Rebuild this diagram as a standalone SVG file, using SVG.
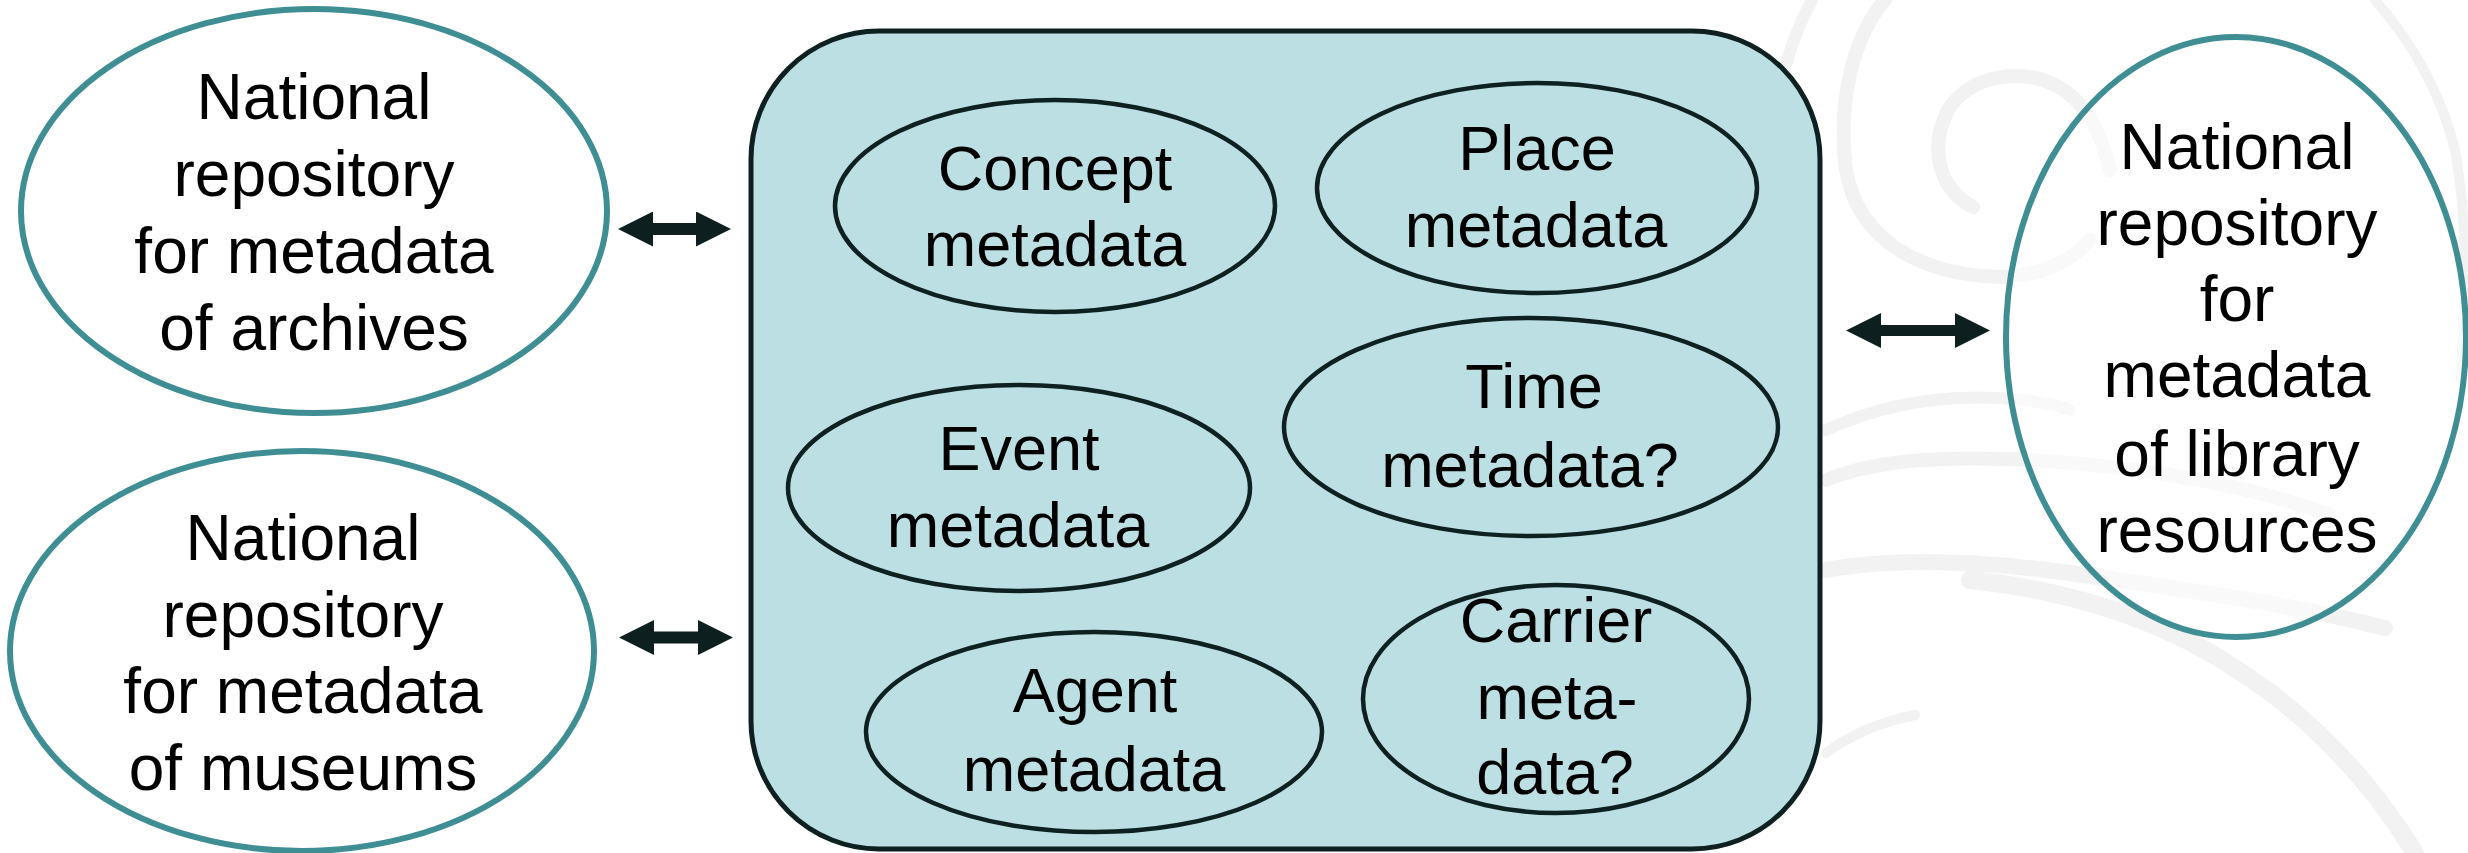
<svg xmlns="http://www.w3.org/2000/svg" width="2468" height="853" viewBox="0 0 2468 853">
  <defs>
    <style>
      .swirl { fill: none; stroke: #f2f2f2; stroke-linecap: round; }
      .repo { fill: #ffffff; fill-opacity: 0.55; stroke: #3f8e94; stroke-width: 6; }
      .hub { fill: #bbdfe2; stroke: #0e2020; stroke-width: 5; }
      .facet { fill: none; stroke: #0e2020; stroke-width: 4.5; }
      .label { font-family: "Liberation Sans", Arial, sans-serif; fill: #000000; text-anchor: middle; }
      .big { font-size: 64px; }
      .mid { font-size: 63px; }
      .link { stroke: #0e1f1f; stroke-width: 12; fill: none; marker-start: url(#head); marker-end: url(#head); }
      .link-thin { stroke-width: 11; }
    </style>
    <marker id="head" viewBox="0 0 35 35" markerWidth="35" markerHeight="35" refX="5" refY="17.5" markerUnits="userSpaceOnUse" orient="auto-start-reverse">
      <path d="M0,0 L35,17.5 L0,35 Z" fill="#0e1f1f"/>
    </marker>
  </defs>

  <rect width="2468" height="853" fill="#ffffff"/>

  <!-- faint decorative swirl in the background -->
  <g id="background-swirl">
    <path class="swirl" stroke-width="12" d="M1812,0 C1790,40 1775,90 1778,150"/>
    <path class="swirl" stroke-width="14" d="M1885,0 C1850,40 1838,110 1846,170 C1858,240 1920,275 2000,277 C2040,276 2070,262 2090,240"/>
    <path class="swirl" stroke-width="14" d="M1973,207 C1940,190 1928,150 1948,110 C1970,75 2020,68 2055,85 C2085,100 2100,130 2110,170"/>
    <path class="swirl" stroke-width="10" d="M2375,0 C2410,40 2440,90 2455,150 C2468,220 2466,300 2460,380"/>
    <path class="swirl" stroke-width="12" d="M1826,430 C1880,405 1940,395 2000,398 C2030,400 2055,404 2070,410"/>
    <path class="swirl" stroke-width="14" d="M1826,480 C1870,462 1930,455 2034,460 C2150,468 2250,485 2330,515"/>
    <path class="swirl" stroke-width="16" d="M1826,570 C1880,560 1960,556 2098,577 C2200,592 2300,606 2385,628"/>
    <path class="swirl" stroke-width="18" d="M1970,580 C2070,590 2160,620 2230,665 C2310,715 2370,780 2415,853"/>
    <path class="swirl" stroke-width="10" d="M1826,753 C1850,735 1880,722 1915,715"/>
  </g>

  <!-- side repositories -->
  <g id="repo-archives">
    <ellipse class="repo" cx="314" cy="211" rx="293" ry="202"/>
    <text class="label big" x="314" y="119">National</text>
    <text class="label big" x="314" y="196">repository</text>
    <text class="label big" x="314" y="273">for metadata</text>
    <text class="label big" x="314" y="350">of archives</text>
  </g>

  <g id="repo-museums">
    <ellipse class="repo" cx="302" cy="651" rx="292" ry="200"/>
    <text class="label big" x="303" y="560">National</text>
    <text class="label big" x="303" y="637">repository</text>
    <text class="label big" x="303" y="713">for metadata</text>
    <text class="label big" x="303" y="790">of museums</text>
  </g>

  <g id="repo-library">
    <ellipse class="repo" cx="2236" cy="337" rx="230" ry="300"/>
    <text class="label big" x="2237" y="169">National</text>
    <text class="label big" x="2237" y="245">repository</text>
    <text class="label big" x="2237" y="321">for</text>
    <text class="label big" x="2237" y="397">metadata</text>
    <text class="label big" x="2237" y="476">of library</text>
    <text class="label big" x="2237" y="552">resources</text>
  </g>

  <!-- central hub of shared metadata -->
  <g id="hub">
    <rect class="hub" x="751" y="31" width="1069" height="818" rx="128" ry="128"/>
  </g>

  <g id="concept">
    <ellipse class="facet" cx="1055" cy="206" rx="220" ry="106"/>
    <text class="label mid" x="1055" y="190">Concept</text>
    <text class="label mid" x="1055" y="266">metadata</text>
  </g>

  <g id="place">
    <ellipse class="facet" cx="1537" cy="188" rx="220" ry="105"/>
    <text class="label mid" x="1537" y="170">Place</text>
    <text class="label mid" x="1536" y="247">metadata</text>
  </g>

  <g id="time">
    <ellipse class="facet" cx="1531" cy="427" rx="247" ry="109"/>
    <text class="label mid" x="1534" y="408">Time</text>
    <text class="label mid" x="1530" y="487">metadata?</text>
  </g>

  <g id="event">
    <ellipse class="facet" cx="1019" cy="488" rx="231" ry="103"/>
    <text class="label mid" x="1019" y="470">Event</text>
    <text class="label mid" x="1018" y="547">metadata</text>
  </g>

  <g id="agent">
    <ellipse class="facet" cx="1094" cy="732" rx="228" ry="100"/>
    <text class="label mid" x="1095" y="712">Agent</text>
    <text class="label mid" x="1094" y="791">metadata</text>
  </g>

  <g id="carrier">
    <ellipse class="facet" cx="1556" cy="699" rx="193" ry="114"/>
    <text class="label mid" x="1556" y="642">Carrier</text>
    <text class="label mid" x="1557" y="719">meta-</text>
    <text class="label mid" x="1555" y="794">data?</text>
  </g>

  <!-- two-way exchange links -->
  <g id="connectors">
    <line class="link" x1="648" y1="229" x2="701" y2="229"/>
    <line class="link" x1="649" y1="637.5" x2="703" y2="637.5"/>
    <line class="link link-thin" x1="1876" y1="330.5" x2="1960" y2="330.5"/>
  </g>
</svg>
